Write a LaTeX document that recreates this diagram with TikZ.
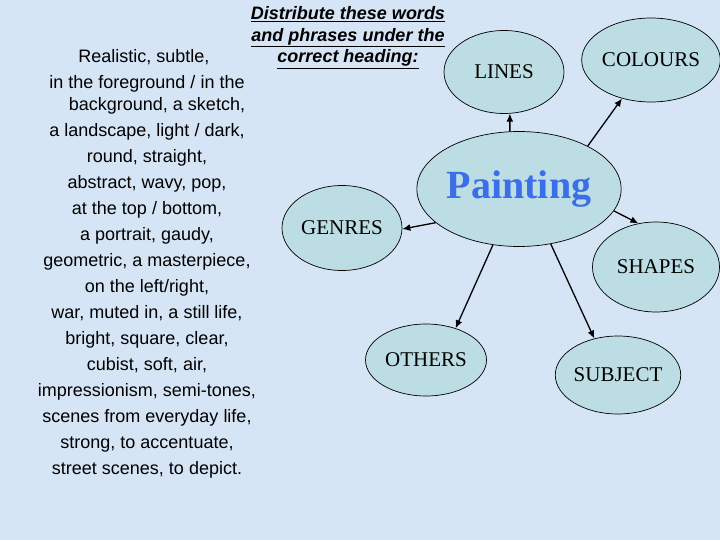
\documentclass[tikz,border=0pt]{standalone}
\usepackage{fontspec}
\setmainfont{Liberation Sans}
\newfontfamily\labelfont{Liberation Serif}
\usetikzlibrary{shapes.geometric,arrows.meta}
\definecolor{bgblue}{HTML}{D6E5F5}
\definecolor{ellfill}{HTML}{BCDDE3}
\definecolor{paintblue}{HTML}{3A6FE8}
\tikzset{
  bubble/.style={ellipse, draw=black, line width=0.7pt, fill=ellfill, inner sep=0pt,
    font=\labelfont\fontsize{21}{24}\selectfont},
  link/.style={line width=1.3pt, -{Latex[length=8pt,width=7pt]}},
}
\begin{document}
\begin{tikzpicture}[x=1pt,y=-1pt]
\fill[bgblue] (0,0) rectangle (720,540);
\useasboundingbox (0,0) rectangle (720,540);

\node[align=center, anchor=base, font=\fontsize{18}{21.5}\selectfont\bfseries\itshape] (head) at (348,63)
  {\underline{Distribute these words}\\ \underline{and phrases under the}\\ \underline{correct heading:}};

\node[align=center, anchor=base, font=\fontsize{18}{26}\selectfont] (words) at (147,474)
  {\hspace*{-6pt}Realistic, subtle,\\
   in the foreground / in the\\[-4pt]
   \hspace*{20pt}background, a sketch,\\
   a landscape, light / dark,\\
   round, straight,\\
   abstract, wavy, pop,\\
   at the top / bottom,\\
   a portrait, gaudy,\\
   geometric, a masterpiece,\\
   on the left/right,\\
   war, muted in, a still life,\\
   bright, square, clear,\\
   cubist, soft, air,\\
   impressionism, semi-tones,\\
   scenes from everyday life,\\
   strong, to accentuate,\\
   street scenes, to depict.};

\node[bubble, minimum width=198pt, minimum height=115pt, text=paintblue,
  font=\labelfont\bfseries\fontsize{40}{44}\selectfont] (P) at (519,189) {Painting};
\node[bubble, minimum width=120pt, minimum height=83pt] (L) at (504,72) {LINES};
\node[bubble, minimum width=136pt, minimum height=84pt] (C) at (651,60) {COLOURS};
\node[bubble, minimum width=120pt, minimum height=85pt] (G) at (342,228) {GENRES};
\node[bubble, minimum width=127pt, minimum height=90pt] (S) at (656,267) {SHAPES};
\node[bubble, minimum width=121pt, minimum height=72pt] (O) at (426,360) {OTHERS};
\node[bubble, minimum width=120pt, minimum height=78pt] (J) at (618,375) {SUBJECT};

\draw[link] (P.99) -- (L.-82);
\draw[link] (P.32) -- (C.-127);
\draw[link] (P.202) -- (G.-1);
\draw[link] (P.-13) -- (S.112);
\draw[link] (P.-115) -- (O.47);
\draw[link] (P.-60) -- (J.123);
\end{tikzpicture}
\end{document}
